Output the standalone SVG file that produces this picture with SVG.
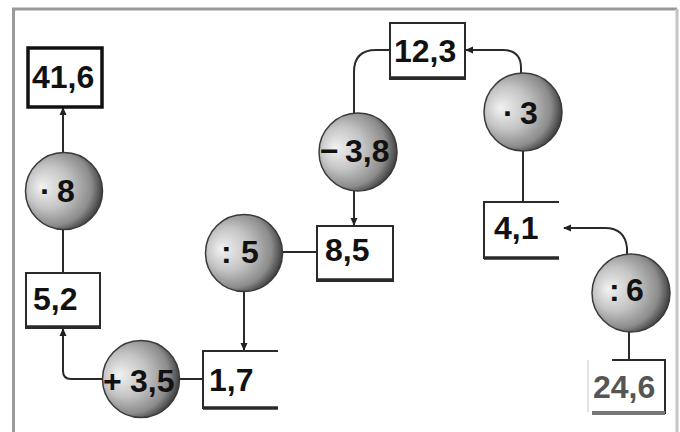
<svg xmlns="http://www.w3.org/2000/svg" width="680" height="432" viewBox="0 0 680 432">
  <style>
    .frame { fill: none; stroke-width: 3; }
    .box { fill: #fff; stroke: #2a2a2a; stroke-width: 2; }
    .open { fill: none; stroke: #2a2a2a; stroke-width: 2; }
    .base { fill: none; stroke: #2a2a2a; stroke-width: 3.5; }
    .op { fill: url(#ball); stroke: #3a3a3a; stroke-width: 1.5; }
    .val { font-family: "Liberation Sans", Arial, sans-serif; font-weight: bold; font-size: 32px; fill: #111; }
    .link { fill: none; stroke: #2a2a2a; stroke-width: 2; }
    .arrow { marker-end: url(#tip); }
  </style>
  <defs>
    <radialGradient id="ball" cx="0.4" cy="0.45" r="0.62" fx="0.2" fy="0.45">
      <stop offset="0" stop-color="#f2f2f2"/>
      <stop offset="0.45" stop-color="#c4c4c4"/>
      <stop offset="0.8" stop-color="#8c8c8c"/>
      <stop offset="1" stop-color="#383838"/>
    </radialGradient>
    <marker id="tip" markerWidth="8" markerHeight="8" refX="7" refY="4" orient="auto" markerUnits="userSpaceOnUse">
      <path d="M0,0.5 L8,4 L0,7.5 z" fill="#222"/>
    </marker>
  </defs>

  <rect width="680" height="432" fill="#fff"/>
  <!-- outer frame -->
  <path class="frame" d="M13.5,432 V9 H677" stroke="#9a9a9a"/>
  <path class="frame" d="M677,9 V432" stroke="#c4c4c4"/>

  <!-- connectors -->
  <g id="connectors">
    <path class="link arrow" d="M63,152 V108"/>
    <path class="link" d="M63,230 V273"/>
    <path class="link arrow" d="M103,379 H71 Q63,379 63,371 V329"/>
    <path class="link" d="M180,379 H203"/>
    <path class="link arrow" d="M244,291 V350"/>
    <path class="link" d="M282,252 H317"/>
    <path class="link arrow" d="M354,191 V225"/>
    <path class="link" d="M390,50 H376 Q354,50 354,72 V113"/>
    <path class="link arrow" d="M521,73 V68 Q521,50 503,50 H466"/>
    <path class="link" d="M523,151 V202"/>
    <path class="link arrow" d="M627,254 V248 Q625,228 605,228 H564" stroke="#555" stroke-width="3"/>
    <path class="link" d="M629,332 V360"/>
  </g>

  <!-- value boxes -->
  <g id="v41_6">
    <rect x="28" y="48" width="74" height="59" fill="#fff" stroke="#111" stroke-width="3.5"/>
    <text class="val" x="32" y="88">41,6</text>
  </g>
  <g id="v5_2">
    <rect class="box" x="26" y="273" width="74" height="55"/>
    <path class="base" d="M26,327 H100"/>
    <text class="val" x="33" y="310">5,2</text>
  </g>
  <g id="v1_7">
    <rect x="203" y="351" width="75" height="58" fill="#fff"/>
    <path class="open" d="M278,351 H203 V409"/>
    <path class="base" d="M203,408 H278"/>
    <text class="val" x="209" y="391">1,7</text>
  </g>
  <g id="v8_5">
    <rect class="box" x="317" y="226" width="76" height="55"/>
    <path class="base" d="M317,280 H393"/>
    <text class="val" x="325" y="261">8,5</text>
  </g>
  <g id="v12_3">
    <rect class="box" x="390" y="23" width="75" height="56"/>
    <path class="base" d="M390,78 H465"/>
    <text class="val" x="394" y="62">12,3</text>
  </g>
  <g id="v4_1">
    <rect x="484" y="202" width="75" height="57" fill="#fff"/>
    <path class="open" d="M559,202 H484 V259"/>
    <path class="base" d="M484,258 H559"/>
    <text class="val" x="494" y="239">4,1</text>
  </g>
  <g id="v24_6">
    <rect x="588" y="360" width="77" height="54" fill="#fff"/>
    <path class="open" d="M612,360 H665 V414"/>
    <path d="M588,360 V412" fill="none" stroke="#d8d8d8" stroke-width="1.5"/>
    <path d="M592,413 H665" fill="none" stroke="#777" stroke-width="4"/>
    <text class="val" x="593" y="398" style="fill:#555">24,6</text>
  </g>

  <!-- operator circles -->
  <g id="op_mul8">
    <circle class="op" cx="64" cy="191" r="38.5"/>
    <text class="val"><tspan x="40" y="202">·</tspan><tspan x="57" y="202">8</tspan></text>
  </g>
  <g id="op_add3_5">
    <circle class="op" cx="141" cy="379" r="38.5"/>
    <text class="val"><tspan x="103" y="392">+</tspan><tspan x="130" y="392">3,5</tspan></text>
  </g>
  <g id="op_div5">
    <circle class="op" cx="244" cy="253" r="38.5"/>
    <text class="val"><tspan x="221" y="263">:</tspan><tspan x="241" y="263">5</tspan></text>
  </g>
  <g id="op_sub3_8">
    <circle class="op" cx="358" cy="152" r="39"/>
    <text class="val"><tspan x="320" y="162">−</tspan><tspan x="345" y="162">3,8</tspan></text>
  </g>
  <g id="op_mul3">
    <circle class="op" cx="523" cy="112" r="39"/>
    <text class="val"><tspan x="503" y="124">·</tspan><tspan x="520" y="124">3</tspan></text>
  </g>
  <g id="op_div6">
    <circle class="op" cx="631" cy="293" r="39"/>
    <text class="val"><tspan x="609" y="301">:</tspan><tspan x="626" y="301">6</tspan></text>
  </g>
</svg>
